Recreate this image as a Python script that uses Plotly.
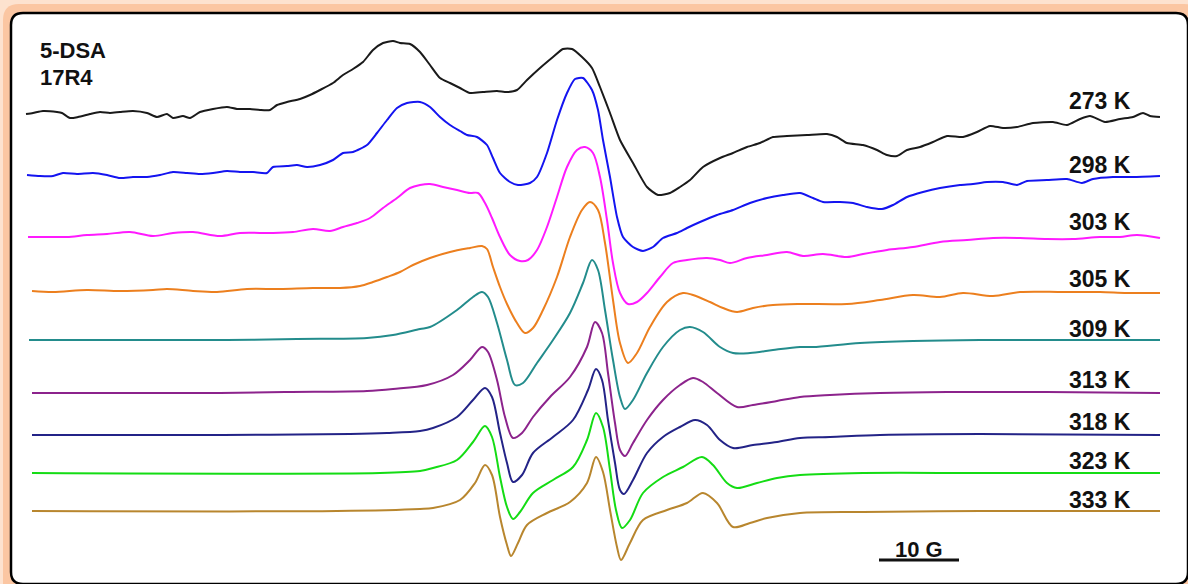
import plotly.graph_objects as go

# ---- data (field position, signal position) ----
temps = ["273 K", "298 K", "303 K", "305 K", "309 K", "313 K", "318 K", "323 K", "333 K"]
colors = ["#1a1a1a", "#1414f0", "#ff1aff", "#ec7f1e", "#238c8c", "#8c238c", "#232387", "#14dc14", "#b8862e"]

field_273 = [26, 33, 43, 57, 62, 70, 78, 90, 100, 110, 120, 133, 147, 157, 167, 173, 183, 190, 200, 213, 227, 237, 250, 260, 270, 277, 287, 300, 310, 320, 333, 343, 353, 363, 373, 383, 393, 400, 410, 420, 430, 440, 450, 460, 470, 483, 497, 507, 517, 527, 540, 553, 563, 572, 582, 592, 600, 610, 620, 633, 647, 658, 670, 680, 690, 703, 720, 733, 747, 760, 773, 787, 807, 827, 837, 847, 863, 877, 887, 897, 907, 920, 933, 947, 963, 977, 990, 1003, 1017, 1033, 1053, 1067, 1080, 1090, 1105, 1120, 1133, 1143, 1150, 1160]
sig_273 = [114, 113, 111, 112, 113, 118, 117, 114, 112, 113, 112, 111, 113, 117, 114, 118, 116, 118, 112, 109, 107, 109, 109, 110, 110, 105, 102, 99, 95, 90, 83, 75, 69, 62, 50, 43, 41, 43, 44, 52, 65, 78, 83, 88, 93, 92, 91, 92, 90, 80, 68, 57, 49, 49, 57, 68, 87, 113, 140, 163, 187, 195, 193, 187, 180, 167, 158, 153, 147, 143, 137, 136, 135, 134, 137, 143, 145, 150, 155, 156, 150, 147, 142, 136, 137, 132, 126, 128, 127, 123, 122, 125, 119, 116, 122, 119, 117, 113, 116, 117]

field_298 = [27, 40, 53, 63, 77, 93, 107, 120, 133, 147, 160, 173, 187, 200, 213, 227, 240, 253, 267, 273, 287, 297, 307, 320, 333, 343, 353, 367, 377, 387, 397, 407, 420, 430, 440, 450, 460, 467, 477, 487, 493, 500, 510, 518, 530, 537, 547, 557, 567, 575, 583, 592, 598, 603, 610, 617, 623, 633, 643, 653, 663, 677, 687, 700, 717, 733, 750, 767, 783, 800, 813, 823, 840, 853, 867, 882, 893, 907, 923, 940, 960, 973, 987, 1003, 1017, 1027, 1047, 1067, 1082, 1093, 1113, 1133, 1160]
sig_298 = [175, 176, 176, 173, 174, 173, 175, 178, 177, 177, 175, 172, 173, 174, 173, 171, 172, 172, 173, 167, 166, 165, 167, 165, 160, 153, 152, 145, 133, 120, 108, 103, 102, 107, 117, 125, 131, 135, 137, 145, 158, 173, 182, 185, 183, 177, 153, 120, 93, 79, 78, 90, 110, 140, 177, 217, 237, 247, 251, 247, 238, 233, 228, 222, 215, 210, 203, 198, 195, 193, 198, 202, 202, 203, 207, 209, 205, 197, 192, 188, 185, 184, 182, 182, 185, 181, 180, 179, 183, 179, 177, 177, 176]

field_303 = [28, 47, 67, 87, 107, 130, 153, 173, 193, 220, 240, 273, 293, 313, 330, 343, 357, 370, 383, 397, 410, 420, 430, 443, 457, 470, 478, 485, 492, 500, 510, 520, 528, 537, 547, 557, 567, 577, 585, 593, 600, 607, 613, 620, 628, 637, 647, 660, 673, 687, 707, 720, 730, 747, 767, 787, 803, 823, 847, 863, 887, 913, 940, 967, 993, 1020, 1047, 1073, 1100, 1120, 1137, 1160]
sig_303 = [237, 237, 237, 235, 234, 232, 236, 233, 232, 236, 233, 233, 232, 229, 231, 227, 223, 218, 208, 198, 188, 185, 184, 187, 190, 193, 193, 203, 218, 237, 255, 261, 260, 250, 227, 197, 167, 150, 147, 153, 177, 220, 263, 293, 304, 302, 293, 277, 263, 260, 258, 260, 263, 258, 255, 252, 256, 254, 257, 254, 250, 247, 242, 240, 238, 238, 239, 239, 237, 237, 235, 238]

field_305 = [32, 53, 87, 120, 153, 167, 193, 217, 247, 280, 313, 340, 360, 373, 387, 400, 413, 430, 450, 470, 482, 487, 493, 500, 507, 517, 525, 533, 543, 557, 570, 582, 590, 598, 605, 613, 620, 628, 637, 650, 667, 683, 693, 710, 723, 737, 753, 773, 800, 847, 880, 913, 940, 963, 993, 1020, 1063, 1100, 1127, 1160]
sig_305 = [291, 292, 290, 291, 290, 289, 291, 292, 289, 289, 288, 288, 286, 282, 277, 272, 265, 258, 252, 248, 246, 249, 267, 287, 304, 323, 333, 328, 310, 277, 237, 210, 202, 210, 243, 300, 343, 363, 353, 327, 302, 293, 295, 302, 308, 312, 308, 305, 304, 304, 300, 295, 297, 293, 296, 292, 292, 292, 293, 293]

field_309 = [29, 120, 227, 297, 367, 393, 420, 430, 457, 473, 482, 488, 497, 507, 515, 523, 537, 553, 570, 583, 592, 598, 605, 613, 620, 625, 633, 647, 663, 680, 690, 703, 720, 733, 750, 773, 800, 813, 860, 913, 980, 1047, 1160]
sig_309 = [340, 340, 340, 339, 338, 335, 329, 327, 310, 297, 292, 297, 323, 360, 385, 383, 363, 340, 313, 283, 260, 270, 310, 360, 397, 409, 400, 373, 347, 330, 327, 332, 347, 353, 353, 350, 347, 347, 343, 341, 340, 340, 340]

field_313 = [32, 220, 287, 367, 393, 427, 453, 470, 482, 488, 497, 505, 513, 522, 533, 550, 570, 587, 595, 602, 608, 615, 620, 625, 633, 647, 663, 680, 693, 703, 717, 737, 753, 777, 800, 830, 880, 947, 1047, 1160]
sig_313 = [393, 393, 392, 391, 389, 385, 375, 360, 347, 352, 380, 417, 438, 433, 417, 397, 377, 347, 322, 333, 373, 423, 450, 456, 443, 420, 400, 385, 378, 382, 393, 407, 405, 401, 397, 395, 393, 392, 392, 393]

field_318 = [32, 223, 350, 387, 420, 433, 457, 473, 485, 492, 500, 507, 513, 522, 533, 553, 573, 588, 596, 602, 608, 615, 620, 624, 633, 647, 663, 680, 695, 707, 720, 733, 753, 777, 800, 830, 880, 980, 1160]
sig_318 = [435, 435, 434, 433, 431, 428, 417, 400, 388, 397, 433, 463, 482, 475, 453, 437, 420, 390, 369, 380, 420, 463, 490, 494, 480, 453, 437, 427, 420, 425, 440, 448, 445, 442, 438, 437, 435, 434, 435]

field_323 = [32, 380, 420, 433, 457, 473, 485, 492, 500, 507, 513, 520, 533, 553, 573, 587, 596, 603, 610, 616, 622, 630, 643, 663, 683, 702, 713, 727, 737, 757, 777, 800, 863, 980, 1160]
sig_323 = [473, 473, 471, 468, 460, 442, 426, 437, 477, 507, 519, 512, 493, 480, 467, 440, 413, 427, 470, 510, 528, 520, 493, 477, 467, 457, 465, 483, 488, 483, 478, 475, 473, 473, 473]

field_333 = [32, 337, 420, 433, 460, 475, 485, 492, 500, 507, 511, 518, 527, 547, 570, 587, 596, 603, 610, 617, 621, 630, 643, 667, 687, 703, 717, 733, 750, 767, 800, 863, 980, 1160]
sig_333 = [511, 511, 509, 508, 500, 483, 465, 475, 517, 545, 556, 543, 525, 513, 502, 483, 457, 472, 510, 547, 560, 543, 520, 510, 503, 493, 503, 527, 523, 518, 513, 512, 511, 511]

fields = [field_273, field_298, field_303, field_305, field_309, field_313, field_318, field_323, field_333]
signals = [sig_273, sig_298, sig_303, sig_305, sig_309, sig_313, sig_318, sig_323, sig_333]

# label anchor positions (field, signal units)
label_x = 1067
label_y = [101, 165, 222, 279, 329, 380, 422, 461, 500]

W, H = 1188, 584
fig = go.Figure()

for i, (f, s, c) in enumerate(zip(fields, signals, colors)):
    sm = 0.6 if i < 2 else 0.9
    fig.add_trace(go.Scatter(x=f, y=s, mode="lines",
                             line=dict(color=c, width=2, shape="spline", smoothing=sm),
                             showlegend=False, hoverinfo="skip"))

FAM = "Arial, Liberation Sans, sans-serif"
font_k = dict(family=FAM, size=23, color="#111111")
font_t = dict(family=FAM, size=22, color="#111111")
for t, ly in zip(temps, label_y):
    fig.add_annotation(x=label_x, y=ly, text="<b>%s</b>" % t, showarrow=False,
                       xanchor="left", yanchor="middle", font=font_k)

fig.add_annotation(x=38, y=50, text="<b>5-DSA</b>", showarrow=False,
                   xanchor="left", yanchor="middle", font=font_t)
fig.add_annotation(x=38, y=77, text="<b>17R4</b>", showarrow=False,
                   xanchor="left", yanchor="middle", font=font_t)
fig.add_annotation(x=919, y=549, text="<b>10 G</b>", showarrow=False,
                   xanchor="center", yanchor="middle", font=font_t)

# scale bar (10 G)
fig.add_shape(type="line", x0=879, x1=959, y0=560, y1=560, xref="x", yref="y",
              line=dict(color="#111111", width=3))

# rounded white panel
def rounded_path(x0, y0, x1, y1, r):
    return (f"M {x0+r},{y0} L {x1-r},{y0} Q {x1},{y0} {x1},{y0+r} "
            f"L {x1},{y1-r} Q {x1},{y1} {x1-r},{y1} L {x0+r},{y1} "
            f"Q {x0},{y1} {x0},{y1-r} L {x0},{y0+r} Q {x0},{y0} {x0+r},{y0} Z")

# soft peach glow layers
fig.add_shape(type="path", path=rounded_path(3, 4, 1200, 600, 16), xref="x", yref="y",
              fillcolor="#fbc6a2", line=dict(width=0), layer="below")
fig.add_shape(type="path", path=rounded_path(11, 13, 1188, 584, 12), xref="x", yref="y",
              fillcolor="white", line=dict(color="black", width=2.5), layer="below")

fig.update_layout(
    width=W, height=H,
    margin=dict(l=0, r=0, t=0, b=0),
    paper_bgcolor="#fde2cf",
    plot_bgcolor="rgba(0,0,0,0)",
    xaxis=dict(range=[0, W], visible=False, fixedrange=True),
    yaxis=dict(range=[H, 0], visible=False, fixedrange=True),
)

fig.write_html("out.html",
               config={"displayModeBar": False},
               post_script="document.body.style.margin='0';document.body.style.overflow='hidden';")
